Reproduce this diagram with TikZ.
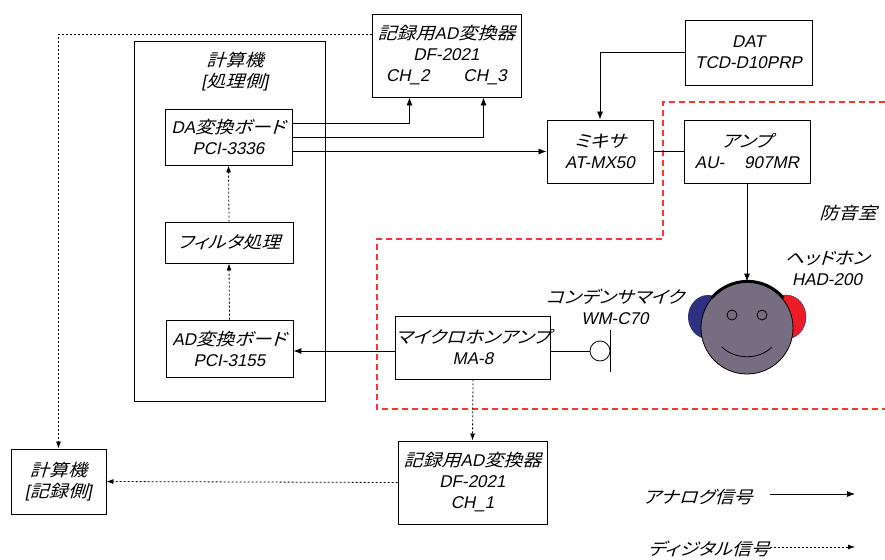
\documentclass[tikz,border=0pt]{standalone}
\usepackage{fontspec}
\setmainfont{Liberation Sans}[FakeSlant=0.2]
\newfontfamily\jp{Noto Sans CJK JP}[FakeSlant=0.3, FakeStretch=1.12, RawFeature=+palt]
\usetikzlibrary{arrows.meta}

\definecolor{headgray}{RGB}{118,109,128}
\definecolor{earblue}{RGB}{48,48,128}
\definecolor{earred}{RGB}{237,28,36}

\begin{document}
\begin{tikzpicture}[x=1pt, y=1pt]
        \tikzset{
            box/.style={draw, line width=0.9pt, inner sep=0pt, align=center, font=\fontsize{17}{21}\selectfont},
            txt/.style={inner sep=0pt, align=center, font=\fontsize{17}{21}\selectfont},
            analog/.style={line width=0.8pt, -{Latex[length=8pt, width=6pt]}},
            digital/.style={line width=0.8pt, dash pattern=on 2pt off 2pt, -{Latex[length=7pt, width=5pt]}},
            roomline/.style={red!80, line width=1.1pt, dash pattern=on 6pt off 4pt}
        }
        \useasboundingbox (0,0) rectangle (885,-559);

        % Sound-proof room
        \draw[roomline] (885,-102) -- (663,-102) -- (663,-239) -- (377,-239) -- (377,-409) -- (885,-409);
        \node[txt] (roomname) at (848,-213) {\jp 防音室};

        % Computer (processing side)
        \node[box, minimum width=191pt, minimum height=360pt] (pc) at (229.5,-221) {};
        \node[txt] (pcname) at (235,-72) {{\jp 計算機}\\{}[{\jp 処理側}]};
        \node[box, minimum width=127pt, minimum height=56pt] (da) at (228.5,-137) {DA{\jp 変換ボード}\\PCI-3336};
        \node[box, minimum width=128pt, minimum height=41pt] (filt) at (229,-242.5) {\jp フィルタ処理};
        \node[box, minimum width=127pt, minimum height=57pt] (adb) at (229.5,-348.5) {AD{\jp 変換ボード}\\PCI-3155};

        % Recorders and audio chain
        \node[box, minimum width=149pt, minimum height=83pt] (recad) at (446.5,-55.5) {{\jp 記録用}AD{\jp 変換器}\\DF-2021\\CH\_2\hspace{34pt}CH\_3};
        \node[box, minimum width=106pt, minimum height=63pt] (mix) at (600,-151.5) {{\jp ミキサ}\\AT-MX50};
        \node[box, minimum width=127pt, minimum height=65pt] (dat) at (748.5,-52.5) {DAT\\TCD-D10PRP};
        \node[box, minimum width=126pt, minimum height=63pt] (amp) at (747,-151.5) {{\jp アンプ}\\AU-\hspace{20pt}907MR};
        \node[box, minimum width=148pt, minimum height=63pt] (micamp) at (473,-347.5) {{\jp マイクロホンアンプ}\\MA-8};
        \node[box, minimum width=149pt, minimum height=83pt] (recad2) at (472.5,-482.5) {{\jp 記録用}AD{\jp 変換器}\\DF-2021\\CH\_1};
        \node[box, minimum width=95pt, minimum height=65pt] (reccomp) at (58.5,-481.5) {{\jp 計算機}\\{}[{\jp 記録側}]};

        % Microphone
        \node[circle, draw, line width=0.8pt, minimum size=20pt, inner sep=0pt] (mic) at (600,-351) {};
        \draw[line width=0.8pt] ([yshift=21pt]mic.east) -- ([yshift=-21pt]mic.east);
        \node[txt] (miclabel) at (615,-307) {{\jp コンデンサマイク}\\WM-C70};

        % Head with headphones
        \fill[earblue] (708,-317) ellipse [x radius=20, y radius=22];
        \filldraw[fill=earred, draw=earblue, line width=0.4pt] (786,-317) ellipse [x radius=20, y radius=22];
        \node[circle, draw, fill=headgray, line width=0.8pt, minimum size=92pt, inner sep=0pt] (head) at (747,-328) {};
        \draw[line width=3pt] (head.140) arc[start angle=140, end angle=40, radius=47];
        \draw[line width=0.8pt] (732,-315) circle[radius=5] (762,-315) circle[radius=5];
        \draw[line width=0.8pt] (722,-347) .. controls (735,-360) and (759,-360) .. (772,-347);
        \node[txt] (hplabel) at (827,-268) {{\jp ヘッドホン}\\HAD-200};

        % Analog connections
        \draw[analog] ([yshift=14pt]da.east) -| ([xshift=-37pt]recad.south);
        \draw[analog] (da.east) -| ([xshift=37pt]recad.south);
        \draw[analog] (mix.west -| da.east) -- (mix.west);
        \draw[analog] (dat.west) -| (mix.north);
        \draw[line width=0.8pt] (mix.east) -- (amp.west);
        \draw[analog] (amp.south) -- (head.north);
        \draw[line width=0.8pt] (mic.west -| micamp.east) -- (mic.west);
        \draw[analog] (micamp.west |- mic) -- (adb.east |- mic);

        % Digital connections
        \draw[digital] (adb.north) -- (filt.south);
        \draw[digital] (filt.north) -- (da.south);
        \draw[digital] (micamp.south) -- (recad2.north);
        \draw[digital] (recad2.west) -- (reccomp.east);
        \draw[digital] ([yshift=21.5pt]recad.west) -| (reccomp.north);

        % Legend
        \node[txt] (analogkey) at (698,-497) {\jp アナログ信号};
        \coordinate (analogstart) at (770,-494);
        \coordinate (analogend) at (855,-494);
        \draw[analog] (analogstart) -- (analogend);
        \node[txt] (digitalkey) at (709,-549) {\jp ディジタル信号};
        \coordinate (digitalend) at (855,-547);
        \draw[digital] (digitalkey.east |- digitalend) -- (digitalend);
\end{tikzpicture}
\end{document}
